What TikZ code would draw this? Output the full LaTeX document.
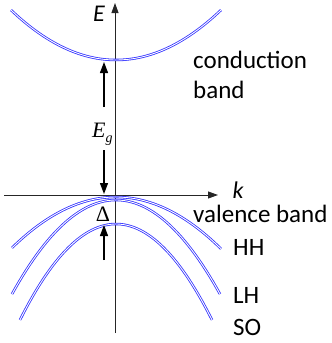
\documentclass[tikz,border=0pt]{standalone}
\usepackage{fontspec}
\setmainfont{Carlito}
\newfontfamily\timesf{Liberation Serif}
\usetikzlibrary{arrows.meta}
\begin{document}
\begin{tikzpicture}[x=1pt,y=-1pt,
  band/.style={draw={rgb,255:red,50;green,50;blue,255},double=white,line width=0.8pt,double distance=0.9pt},
  axis/.style={draw=black!85,line width=0.9pt,-{Triangle[length=10pt,width=7pt]}},
  gaparrow/.style={draw=black,line width=1.3pt,-{Triangle[length=11pt,width=8pt]}},
  lbl/.style={font=\fontsize{25}{30}\selectfont,inner sep=0pt,anchor=base west}]
\useasboundingbox (0,0) rectangle (332,343);
% axes
\coordinate (kstart) at (4,195);
\coordinate (kend) at (218,195);
\coordinate (estart) at (115,333);
\coordinate (eend) at (115,3);
\draw[axis] (kstart) -- (kend);
\draw[axis] (estart) -- (eend);
\node[font=\fontsize{24}{28}\selectfont\itshape,inner sep=0pt] (E) at (99,14) {E};
\node[font=\fontsize{24}{28}\selectfont\itshape,inner sep=0pt] (k) at (238,190) {k};
% bands
\draw[band] plot[domain=11:221,samples=60] (\x,{60-0.004535*(\x-116)^2});
\draw[band] plot[domain=12:221,samples=60] (\x,{197+0.0047*(\x-116)^2});
\draw[band] plot[domain=12:220,samples=60] (\x,{200+0.0087*(\x-116)^2});
\draw[band] plot[domain=20:212,samples=60] (\x,{224+0.0104*(\x-116)^2});
% gap arrows
\coordinate (g1s) at (104,107);
\coordinate (g1e) at (104,62);
\coordinate (g2s) at (104,150);
\coordinate (g2e) at (104,194);
\coordinate (d1s) at (104,260);
\coordinate (d1e) at (104,225);
\draw[gaparrow] (g1s) -- (g1e);
\draw[gaparrow] (g2s) -- (g2e);
\draw[gaparrow] (d1s) -- (d1e);
\node[inner sep=0pt,anchor=base west] (Eg) at (92,137) {\timesf\fontsize{22}{26}\selectfont\itshape E\raisebox{-5pt}{\fontsize{14}{16}\selectfont g}};
\node[inner sep=0pt] (Delta) at (103,214) {\timesf\fontsize{22}{26}\selectfont Δ};
% labels
\node[lbl] (cb1) at (193,68) {conduction};
\node[lbl] (cb2) at (193,98) {band};
\node[lbl] (vb) at (193,222) {valence band};
\node[lbl] (hh) at (233,255) {HH};
\node[lbl] (lh) at (233,303) {LH};
\node[lbl] (so) at (233,335) {SO};
\end{tikzpicture}
\end{document}
